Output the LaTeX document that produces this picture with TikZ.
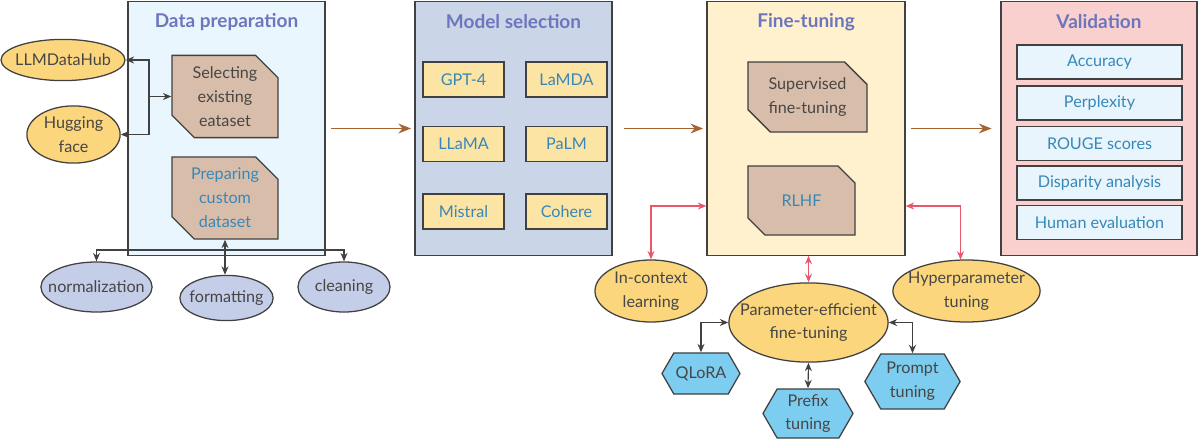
\documentclass[tikz,border=0pt]{standalone}
\usepackage{fontspec}
\setmainfont{Lato}
\usepackage{xcolor}
\definecolor{prepfill}{RGB}{234,246,253}
\definecolor{modelfill}{RGB}{203,213,232}
\definecolor{tunefill}{RGB}{255,241,206}
\definecolor{valfill}{RGB}{249,208,205}
\definecolor{tanfill}{RGB}{216,190,170}
\definecolor{goldfill}{RGB}{251,214,124}
\definecolor{paleyellow}{RGB}{252,228,164}
\definecolor{lavender}{RGB}{197,206,232}
\definecolor{hexblue}{RGB}{125,205,240}
\definecolor{itemblue}{RGB}{232,245,252}
\definecolor{titleblue}{RGB}{108,118,190}
\definecolor{txtblue}{RGB}{55,135,185}
\definecolor{inkgray}{RGB}{70,70,70}
\definecolor{edgegray}{RGB}{65,65,65}
\definecolor{flowbrown}{RGB}{165,100,50}
\definecolor{linkred}{RGB}{232,88,108}
\usepackage{tikz}
\usetikzlibrary{shapes.geometric, shapes.misc, shapes.symbols, arrows.meta, calc}

\begin{document}
\begin{tikzpicture}[
    x=0.025cm, y=-0.025cm,
    font=\fontsize{11.5}{17}\selectfont, text=inkgray,
    stage/.style={draw=edgegray, line width=0.9pt, inner sep=0pt},
    stagetitle/.style={font=\fontsize{13.5}{16}\selectfont\bfseries, text=titleblue},
    cutbox/.style={chamfered rectangle, chamfered rectangle corners={north east, south west},
      chamfered rectangle xsep=0.28cm, chamfered rectangle ysep=0.28cm,
      draw=edgegray, line width=0.9pt, fill=tanfill, align=center, inner sep=0pt},
    modelbox/.style={draw=edgegray, line width=0.9pt, fill=paleyellow, text=txtblue,
      minimum width=2.025cm, minimum height=0.875cm, inner sep=0pt},
    metricbox/.style={draw=edgegray, line width=0.9pt, fill=itemblue, text=txtblue,
      minimum width=4.125cm, minimum height=0.85cm, inner sep=0pt},
    ell/.style={ellipse, draw=edgegray, line width=0.9pt, align=center,
      inner xsep=-12pt, inner ysep=-4pt},
    hexa/.style={signal, signal to=west and east, signal pointer angle=120,
      draw=edgegray, line width=0.9pt, fill=hexblue, align=center, inner sep=0pt},
    blk/.style={edgegray, line width=0.8pt, -{Stealth[length=6pt,width=5pt]}},
    blkboth/.style={edgegray, line width=0.8pt, {Stealth[length=6pt,width=5pt]}-{Stealth[length=6pt,width=5pt]}},
    brn/.style={flowbrown, line width=1pt, -{Stealth[length=9pt,width=7pt]}},
    rlink/.style={linkred, line width=1pt, {Stealth[length=6pt,width=5pt]}-{Stealth[length=6pt,width=5pt]}}
  ]
  \useasboundingbox (0,0) rectangle (1199,440);

  % Stages
  \node[stage, fill=prepfill, minimum width=4.93cm, minimum height=6.33cm] (prep) at (226.5,128.5) {};
  \node[stage, fill=modelfill, minimum width=4.93cm, minimum height=6.33cm] (model) at (513.5,128.5) {};
  \node[stage, fill=tunefill, minimum width=4.95cm, minimum height=6.33cm] (tune) at (806,128.5) {};
  \node[stage, fill=valfill, minimum width=4.9cm, minimum height=6.33cm] (val) at (1099,128.5) {};

  \node[stagetitle] (preptitle) at (226.5,22) {Data preparation};
  \node[stagetitle] (modeltitle) at (513.5,22) {Model selection};
  \node[stagetitle] (tunetitle) at (806,22) {Fine-tuning};
  \node[stagetitle] (valtitle) at (1099,22) {Validation};

  % Flow between stages
  \draw[brn, shorten <=0.13cm, shorten >=0.08cm] (prep.east) -- (model.west);
  \draw[brn, shorten <=0.28cm, shorten >=0.08cm] (model.east) -- (tune.west);
  \draw[brn, shorten <=0.13cm, shorten >=0.22cm] (tune.east) -- (val.west);

  % Data preparation
  \node[cutbox, minimum width=2.65cm, minimum height=1.875cm] (sel) at (225,96.5) {Selecting\\existing\\eataset};
  \node[cutbox, minimum width=2.65cm, minimum height=1.85cm, text=txtblue] (custom) at (225,198) {Preparing\\custom\\dataset};

  \node[ell, fill=goldfill, minimum width=3.1cm, minimum height=1.03cm] (llm) at (63,60) {LLMDataHub};
  \node[ell, fill=goldfill, minimum width=2.33cm, minimum height=1.43cm] (hug) at (73.5,134.5) {Hugging\\face};

  \coordinate (fork) at (149,96.5);
  \draw[blkboth] (llm.east) -| (fork) |- (hug.east);
  \draw[blk] (fork) -- (sel.west);

  \node[ell, fill=lavender, minimum width=2.78cm, minimum height=1.25cm] (norm) at (96.5,287) {normalization};
  \node[ell, fill=lavender, minimum width=2.33cm, minimum height=1.13cm] (fmt) at (226.5,298) {formatting};
  \node[ell, fill=lavender, minimum width=2.3cm, minimum height=1.25cm] (clean) at (344,287) {cleaning};

  \coordinate (split) at (226,250);
  \draw[blkboth] (custom.south) -- (custom.south |- fmt.north);
  \draw[blk] (split) -| (norm.north);
  \draw[blk] (split) -| (clean.north);

  % Model selection
  \node[modelbox] (gpt) at (463.5,79.5) {GPT-4};
  \node[modelbox] (lamda) at (566.5,79.5) {LaMDA};
  \node[modelbox] (llama) at (463.5,144) {LLaMA};
  \node[modelbox] (palm) at (566.5,144) {PaLM};
  \node[modelbox] (mistral) at (463.5,211.5) {Mistral};
  \node[modelbox] (cohere) at (566.5,211.5) {Cohere};

  % Fine-tuning
  \node[cutbox, minimum width=2.975cm, minimum height=1.75cm] (sft) at (807.5,97) {Supervised\\fine-tuning};
  \node[cutbox, minimum width=2.675cm, minimum height=1.725cm, text=txtblue] (rlhf) at (801.5,200.5) {RLHF};

  \node[ell, fill=goldfill, minimum width=2.8cm, minimum height=1.55cm] (icl) at (651,291) {In-context\\learning};
  \node[ell, fill=goldfill, minimum width=3.68cm, minimum height=1.55cm] (hyper) at (966.5,291) {Hyperparameter\\tuning};
  \node[ell, fill=goldfill, minimum width=3.98cm, minimum height=1.98cm] (peft) at (808.5,322.5) {Parameter-efficient\\fine-tuning};

  \draw[rlink] ($(tune.west)+(0,77.5)$) -| (icl.north);
  \draw[rlink] ($(tune.east)+(0,77.5)$) -| ($(hyper.north)+(-6,0.3)$);
  \draw[rlink] (tune.south -| peft.north) -- (peft.north);

  \node[hexa, minimum width=1.95cm, minimum height=1.03cm] (qlora) at (701,373.5) {QLoRA};
  \node[hexa, minimum width=2.25cm, minimum height=1.23cm] (prefix) at (808,413.5) {Prefix\\tuning};
  \node[hexa, minimum width=2.38cm, minimum height=1.38cm] (prompt) at (912.5,381.5) {Prompt\\tuning};

  \draw[blkboth] (peft.west) -| (qlora.north);
  \draw[blkboth] (peft.south) -- (prefix.north);
  \draw[blkboth] (peft.east) -| (prompt.north);

  % Validation
  \node[metricbox] (acc) at (1099.5,62) {Accuracy};
  \node[metricbox] (ppl) at (1099.5,103) {Perplexity};
  \node[metricbox] (rouge) at (1099.5,143.5) {ROUGE scores};
  \node[metricbox] (disp) at (1099.5,183) {Disparity analysis};
  \node[metricbox] (human) at (1099.5,222.5) {Human evaluation};

\end{tikzpicture}
\end{document}
